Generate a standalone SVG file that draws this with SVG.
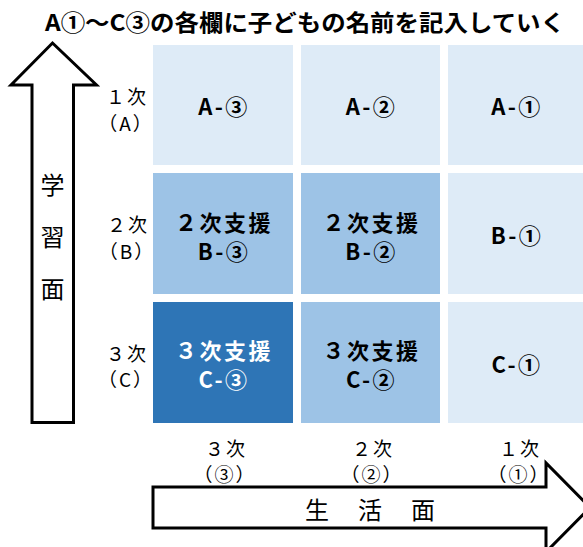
<svg xmlns="http://www.w3.org/2000/svg" width="583" height="547" viewBox="0 0 583 547">
<style>
text{font-family:"Noto Sans CJK JP","Noto Sans",sans-serif;text-anchor:middle;dominant-baseline:central;fill:#000}
.title{font-size:23px;font-weight:bold}
.cell{font-size:22px;font-weight:bold;letter-spacing:2.5px}
.lbl{font-size:19px;letter-spacing:2px}
.big{font-size:24px}
.l1{fill:#DEEBF7}.l2{fill:#9DC3E6}.l3{fill:#2E75B6}
.arrow{fill:#fff;stroke:#000;stroke-width:3;stroke-linejoin:miter}
.w{fill:#fff}
</style>
<rect width="583" height="547" fill="#fff"/>
<text class="title" x="305" y="21" textLength="520" lengthAdjust="spacingAndGlyphs">A①～C③の各欄に子どもの名前を記入していく</text>

<g id="arrow-learning">
<path class="arrow" d="M32 422.5 L32 85 L11 85 L52.5 43 L96.5 85 L73.5 85 L73.5 422.5 Z"/>
<text class="big" x="52.5" y="183">学</text>
<text class="big" x="52.5" y="235">習</text>
<text class="big" x="52.5" y="287">面</text>
</g>

<g id="arrow-life">
<path class="arrow" d="M153 487 L546 487 L546 463 L590 507.5 L546 552 L546 528 L153 528 Z"/>
<text class="big" x="317" y="508">生</text>
<text class="big" x="370" y="508">活</text>
<text class="big" x="423" y="508">面</text>
</g>

<g id="row-labels">
<text class="lbl" x="127" y="95">１次</text>
<text class="lbl" x="126" y="122">（A）</text>
<text class="lbl" x="128" y="223">２次</text>
<text class="lbl" x="127" y="250">（B）</text>
<text class="lbl" x="127" y="352">３次</text>
<text class="lbl" x="126" y="378">（C）</text>
</g>

<g id="col-labels">
<text class="lbl" x="226" y="447">３次</text>
<text class="lbl" x="225" y="473">（③）</text>
<text class="lbl" x="373" y="447">２次</text>
<text class="lbl" x="372" y="473">（②）</text>
<text class="lbl" x="520" y="447">１次</text>
<text class="lbl" x="519" y="473">（①）</text>
</g>

<g id="cell-A3"><rect class="l1" x="153" y="45" width="140" height="120"/><text class="cell" x="224" y="105">A-③</text></g>
<g id="cell-A2"><rect class="l1" x="301" y="45" width="139" height="120"/><text class="cell" x="371.5" y="105">A-②</text></g>
<g id="cell-A1"><rect class="l1" x="448" y="45" width="140" height="120"/><text class="cell" x="517" y="105">A-①</text></g>

<g id="cell-B3"><rect class="l2" x="153" y="173" width="140" height="121"/><text class="cell" x="224" y="221">２次支援</text><text class="cell" x="224" y="250">B-③</text></g>
<g id="cell-B2"><rect class="l2" x="301" y="173" width="139" height="121"/><text class="cell" x="371.5" y="221">２次支援</text><text class="cell" x="371.5" y="250">B-②</text></g>
<g id="cell-B1"><rect class="l1" x="448" y="173" width="140" height="121"/><text class="cell" x="517" y="234">B-①</text></g>

<g id="cell-C3"><rect class="l3" x="153" y="302" width="140" height="121"/><text class="cell w" x="224" y="349">３次支援</text><text class="cell w" x="224" y="378">C-③</text></g>
<g id="cell-C2"><rect class="l2" x="301" y="302" width="139" height="121"/><text class="cell" x="371.5" y="349">３次支援</text><text class="cell" x="371.5" y="378">C-②</text></g>
<g id="cell-C1"><rect class="l1" x="448" y="302" width="140" height="121"/><text class="cell" x="517" y="363">C-①</text></g>
</svg>
